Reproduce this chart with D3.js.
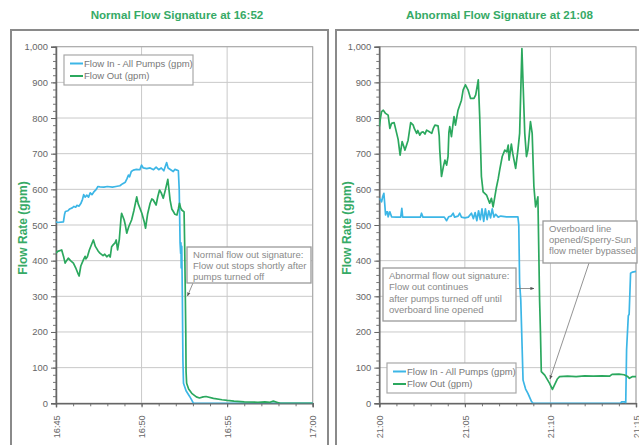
<!DOCTYPE html>
<html>
<head>
<meta charset="utf-8">
<script src="https://cdn.jsdelivr.net/npm/d3@7"></script>
<style>
  body { margin: 0; background: #fff; }
  svg { display: block; font-family: "Liberation Sans", Arial, sans-serif; }
</style>
</head>
<body>
<div id="chart"></div>
<script>
// minutes after the start of each window, flow in gpm
var normalFlowIn = [[0,509],[0.1,507],[0.43,509],[0.5,530],[0.55,538],[0.7,540],[0.8,545],[0.95,548],[1.05,552],[1.15,550],[1.21,555],[1.35,553],[1.45,560],[1.55,572],[1.62,585],[1.7,578],[1.8,584],[1.9,578],[2.0,590],[2.1,585],[2.2,592],[2.35,600],[2.45,608],[2.57,607],[2.8,606],[3.0,608],[3.3,606],[3.5,608],[3.74,610],[3.9,616],[4.05,620],[4.15,630],[4.23,640],[4.3,635],[4.4,650],[4.52,654],[4.7,656],[4.9,655],[5.0,668],[5.1,660],[5.3,658],[5.5,660],[5.7,655],[5.85,662],[6.0,655],[6.15,660],[6.3,652],[6.47,675],[6.55,660],[6.7,655],[6.85,650],[6.95,656],[7.06,654],[7.15,652],[7.2,600],[7.25,450],[7.28,420],[7.3,450],[7.32,380],[7.35,440],[7.38,300],[7.42,120],[7.45,56],[7.6,35],[7.8,20],[7.94,9],[8.03,0],[15,0]];
var normalFlowOut = [[0,421],[0.1,426],[0.33,430],[0.45,410],[0.53,393],[0.62,400],[0.72,407],[0.85,400],[1.01,393],[1.15,380],[1.3,362],[1.35,357],[1.45,385],[1.6,402],[1.7,412],[1.75,405],[1.83,411],[1.95,430],[2.1,448],[2.18,458],[2.3,440],[2.45,428],[2.57,421],[2.75,414],[2.85,418],[2.96,411],[3.1,416],[3.16,410],[3.25,439],[3.35,445],[3.45,450],[3.51,458],[3.6,430],[3.7,460],[3.8,520],[3.84,533],[3.98,514],[4.05,500],[4.13,477],[4.25,495],[4.42,514],[4.55,540],[4.72,579],[4.8,560],[5.01,533],[5.15,510],[5.24,491],[5.35,530],[5.5,561],[5.6,573],[5.69,570],[5.85,556],[5.95,580],[6.05,598],[6.15,590],[6.27,575],[6.4,600],[6.53,628],[6.6,600],[6.67,570],[6.76,545],[6.86,537],[6.95,530],[7.06,528],[7.15,545],[7.21,561],[7.28,548],[7.35,542],[7.49,537],[7.52,450],[7.55,330],[7.58,200],[7.6,90],[7.64,56],[7.75,40],[7.94,28],[8.2,18],[8.38,15],[8.6,18],[8.77,19],[9.2,14],[9.7,10],[10.0,8],[10.4,6],[11,4],[11.8,3],[12.2,4],[12.5,3],[12.7,6],[12.9,3],[13.1,0],[15,0]];
var abnormalFlowIn = [[0,575],[0.14,565],[0.2,580],[0.27,589],[0.32,560],[0.37,528],[0.43,537],[0.49,537],[0.52,523],[0.57,530],[0.62,537],[0.72,523],[1.0,522],[1.25,522],[1.31,547],[1.37,522],[2.0,522],[2.4,522],[2.47,533],[2.55,522],[3.0,522],[3.5,522],[3.8,522],[3.93,512],[4.05,523],[4.2,525],[4.31,533],[4.4,522],[4.6,525],[4.7,533],[4.8,522],[5.0,520],[5.2,522],[5.39,533],[5.5,518],[5.6,535],[5.7,512],[5.8,540],[5.9,515],[6.0,545],[6.1,510],[6.2,545],[6.3,515],[6.4,540],[6.5,520],[6.6,545],[6.7,522],[6.8,530],[6.95,522],[7.1,525],[7.43,523],[8.1,523],[8.15,500],[8.2,336],[8.26,290],[8.4,65],[8.55,40],[8.69,28],[8.89,6],[8.98,0],[14.1,0],[14.15,4],[14.35,4],[14.4,0],[14.45,150],[14.55,245],[14.6,250],[14.68,365],[14.8,368],[15,370]];
var abnormalFlowOut = [[0,776],[0.07,800],[0.14,818],[0.23,822],[0.37,813],[0.52,808],[0.62,771],[0.72,785],[0.86,787],[1.01,757],[1.1,740],[1.21,696],[1.34,734],[1.5,710],[1.6,725],[1.69,738],[1.83,787],[1.98,780],[2.05,770],[2.18,757],[2.25,765],[2.37,752],[2.47,760],[2.57,761],[2.67,755],[2.77,766],[2.9,762],[3.06,757],[3.15,770],[3.25,780],[3.44,778],[3.5,750],[3.54,710],[3.64,636],[3.75,665],[3.83,682],[3.93,668],[4.02,692],[4.07,760],[4.12,776],[4.21,748],[4.3,780],[4.37,804],[4.45,780],[4.6,822],[4.8,850],[4.9,879],[5.04,893],[5.19,879],[5.33,855],[5.53,855],[5.64,865],[5.78,907],[5.87,804],[5.97,636],[6.06,593],[6.26,584],[6.45,561],[6.55,575],[6.65,551],[6.75,579],[6.84,603],[6.95,630],[7.04,654],[7.19,692],[7.33,710],[7.45,705],[7.53,724],[7.58,682],[7.72,727],[7.8,700],[7.97,659],[8.1,710],[8.2,757],[8.34,995],[8.5,757],[8.6,692],[8.69,710],[8.83,790],[8.94,757],[9.04,608],[9.14,551],[9.27,579],[9.37,290],[9.41,200],[9.47,89],[9.66,79],[9.95,56],[10.11,39],[10.24,51],[10.4,68],[10.53,75],[11,76],[11.5,75],[12,77],[12.5,76],[13,77],[13.45,76],[13.6,81],[14.0,82],[14.3,80],[14.52,75],[14.61,70],[14.8,75],[15,75]];

var seriesNames = ["Flow In - All Pumps (gpm)", "Flow Out (gpm)"];
var seriesColors = ["#3cb6e6", "#2ba85e"];
var yTicks = [0,100,200,300,400,500,600,700,800,900,1000];

var titleGreen = "#36aa66";

var svg = d3.select("#chart").append("svg")
  .attr("width", 639)
  .attr("height", 445);

svg.append("rect").attr("width", 639).attr("height", 445).attr("fill", "#fff");

function drawPanel(opt) {
  var left = opt.left, right = opt.right, top = 46.7, bottom = 403.3;

  // outer frame
  svg.append("rect")
    .attr("x", opt.frame[0]).attr("y", 30)
    .attr("width", opt.frame[1]).attr("height", 430)
    .attr("fill", "none").attr("stroke", "#8a8a8a").attr("stroke-width", 2);

  svg.append("text")
    .attr("x", opt.titleX).attr("y", 18.5)
    .attr("text-anchor", "middle")
    .attr("fill", titleGreen)
    .attr("font-weight", "bold")
    .attr("font-size", "11.6px")
    .text(opt.title);

  var start = opt.start;
  var end = d3.timeMinute.offset(start, 15);
  var x = d3.scaleTime().domain([start, end]).range([left, right]);
  var y = d3.scaleLinear().domain([0, 1000]).range([bottom, top]);

  var g = svg.append("g");

  // gridlines
  g.selectAll(".hgrid").data(yTicks).enter().append("line")
    .attr("x1", left).attr("x2", right)
    .attr("y1", function(d) { return y(d); })
    .attr("y2", function(d) { return y(d); })
    .attr("stroke", "#c9c9c9").attr("stroke-width", 1);
  g.selectAll(".vgrid").data(x.ticks(d3.timeMinute.every(5))).enter().append("line")
    .attr("x1", function(d) { return x(d); })
    .attr("x2", function(d) { return x(d); })
    .attr("y1", top).attr("y2", bottom)
    .attr("stroke", "#c9c9c9").attr("stroke-width", 1);

  // plot area border
  g.append("rect")
    .attr("x", left).attr("y", top)
    .attr("width", right - left).attr("height", bottom - top)
    .attr("fill", "none").attr("stroke", "#a6a6a6").attr("stroke-width", 1);

  // minor ticks
  var minorY = d3.range(0, 1001, 20);
  var yMinor = g.append("g")
    .attr("transform", "translate(" + left + ",0)")
    .call(d3.axisLeft(y).tickValues(minorY).tickSize(3).tickFormat(""));
  yMinor.select(".domain").remove();
  yMinor.selectAll("line").attr("stroke", "#777");

  var xMinor = g.append("g")
    .attr("transform", "translate(0," + bottom + ")")
    .call(d3.axisBottom(x).ticks(d3.timeMinute.every(1)).tickSize(3).tickFormat(""));
  xMinor.select(".domain").remove();
  xMinor.selectAll("line").attr("stroke", "#777");

  // major axes
  var yAxis = g.append("g")
    .attr("transform", "translate(" + left + ",0)")
    .call(d3.axisLeft(y).tickValues(yTicks).tickSize(5).tickPadding(3).tickFormat(d3.format(",")));
  yAxis.select(".domain").attr("stroke", "#666").attr("stroke-width", 1.5);
  yAxis.selectAll("line").attr("stroke", "#666");
  yAxis.selectAll("text").attr("fill", "#666").attr("font-size", "9.4px")
    .attr("font-family", "Liberation Sans, Arial, sans-serif");

  var xAxis = g.append("g")
    .attr("transform", "translate(0," + bottom + ")")
    .call(d3.axisBottom(x).ticks(d3.timeMinute.every(5)).tickSize(4).tickFormat(d3.timeFormat("%H:%M")));
  xAxis.select(".domain").attr("stroke", "#666").attr("stroke-width", 1.5);
  xAxis.selectAll("line").attr("stroke", "#666");
  xAxis.selectAll("text")
    .attr("fill", "#666").attr("font-size", "9.2px")
    .attr("font-family", "Liberation Sans, Arial, sans-serif")
    .attr("text-anchor", "end")
    .attr("transform", "rotate(-90)")
    .attr("x", -12).attr("y", 0).attr("dy", "0.35em");

  // axis title
  svg.append("text")
    .attr("transform", "translate(" + opt.labelX + ",228) rotate(-90)")
    .attr("text-anchor", "middle")
    .attr("fill", titleGreen)
    .attr("font-weight", "bold")
    .attr("font-size", "12px")
    .text("Flow Rate (gpm)");

  // lines
  var clipId = "clip" + opt.id;
  svg.append("clipPath").attr("id", clipId).append("rect")
    .attr("x", left).attr("y", top - 3).attr("width", right - left + 1).attr("height", bottom - top + 3);

  var line = d3.line()
    .x(function(d) { return x(d3.timeSecond.offset(start, Math.round(d[0] * 60))); })
    .y(function(d) { return y(d[1]); });

  var lineG = svg.append("g").attr("clip-path", "url(#" + clipId + ")");
  [opt.flowIn, opt.flowOut].forEach(function(data, i) {
    lineG.append("path")
      .datum(data)
      .attr("d", line)
      .attr("fill", "none")
      .attr("stroke", seriesColors[i])
      .attr("stroke-width", 1.7)
      .attr("stroke-linejoin", "round");
  });

  // legend
  var lg = svg.append("g").attr("transform", "translate(" + opt.legend[0] + "," + opt.legend[1] + ")");
  lg.append("rect").attr("width", 129).attr("height", 30)
    .attr("fill", "#fff").attr("stroke", "#a8a8a8").attr("stroke-width", 1.2);
  seriesNames.forEach(function(name, i) {
    lg.append("line")
      .attr("x1", 6).attr("x2", 19)
      .attr("y1", 8.5 + i * 12.5).attr("y2", 8.5 + i * 12.5)
      .attr("stroke", seriesColors[i]).attr("stroke-width", 2);
    lg.append("text")
      .attr("x", 20).attr("y", 8.5 + i * 12.5).attr("dy", "0.35em")
      .attr("fill", "#777").attr("font-size", "9.5px")
      .text(name);
  });

  // annotations
  opt.notes.forEach(function(n) {
    var ng = svg.append("g");
    ng.append("line")
      .attr("x1", n.arrow[0]).attr("y1", n.arrow[1])
      .attr("x2", n.arrow[2]).attr("y2", n.arrow[3])
      .attr("stroke", "#777").attr("stroke-width", 0.8)
      .attr("marker-end", "url(#arrowhead)");
    ng.append("rect")
      .attr("x", n.box[0]).attr("y", n.box[1])
      .attr("width", n.box[2]).attr("height", n.box[3])
      .attr("fill", "#fff").attr("stroke", "#9a9a9a").attr("stroke-width", 1.3);
    n.lines.forEach(function(t, i) {
      ng.append("text")
        .attr("x", n.box[0] + 6).attr("y", n.box[1] + 10.5 + i * n.step)
        .attr("fill", "#8a8a8a").attr("font-size", "9.5px")
        .text(t);
    });
  });
}

svg.append("defs").append("marker")
  .attr("id", "arrowhead")
  .attr("viewBox", "0 0 10 10")
  .attr("refX", 9).attr("refY", 5)
  .attr("markerWidth", 5).attr("markerHeight", 5)
  .attr("orient", "auto")
  .append("path").attr("d", "M0,1 L10,5 L0,9 z").attr("fill", "#555");

drawPanel({
  id: "a",
  title: "Normal Flow Signature at 16:52",
  titleX: 177,
  frame: [11, 317],
  left: 56, right: 312.7,
  labelX: 27,
  start: new Date(2010, 3, 20, 16, 45),
  flowIn: normalFlowIn,
  flowOut: normalFlowOut,
  legend: [64, 55],
  notes: [
    { box: [187, 247, 124, 36], step: 11, arrow: [193, 283, 187.5, 296],
      lines: ["Normal flow out signature:", "Flow out stops shortly after", "pumps turned off"] }
  ]
});

drawPanel({
  id: "b",
  title: "Abnormal Flow Signature at 21:08",
  titleX: 499.5,
  frame: [336, 320],
  left: 379.3, right: 636,
  labelX: 351,
  start: new Date(2010, 3, 20, 21, 0),
  flowIn: abnormalFlowIn,
  flowOut: abnormalFlowOut,
  legend: [387, 363],
  notes: [
    { box: [383, 268, 133, 53], step: 11.5, arrow: [516, 288.5, 534, 288.5],
      lines: ["Abnormal flow out signature:", "Flow out continues", "after pumps turned off until", "overboard line opened"] },
    { box: [543, 221, 94, 42], step: 11, arrow: [589, 263, 550, 379],
      lines: ["Overboard line", "opened/Sperry-Sun", "flow meter bypassed"] }
  ]
});
</script>
</body>
</html>
